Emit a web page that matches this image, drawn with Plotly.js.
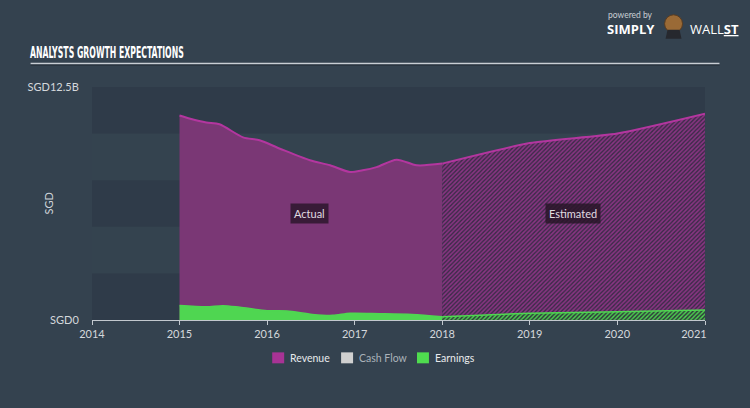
<!DOCTYPE html>
<html>
<head>
<meta charset="utf-8">
<script src="https://cdn.plot.ly/plotly-3.0.1.min.js"></script>
<style>
  html, body { margin: 0; padding: 0; background: #34424f; }
  #chart { width: 750px; height: 408px; }
</style>
</head>
<body>
<div id="chart"></div>
<script>
// ---- data (SGD billions) ----
const revenueActualDates = ['2015-01-01','2015-02-15','2015-04-23','2015-06-17','2015-09-23','2015-12-01','2016-02-24','2016-06-28','2016-09-20','2016-12-12','2017-02-03','2017-04-02','2017-06-25','2017-09-16','2018-01-01'];
const revenueActual = [10.97, 10.8, 10.6, 10.5, 9.8, 9.64, 9.19, 8.57, 8.3, 7.94, 8.03, 8.2, 8.6, 8.3, 8.39];
const revenueEstDates = ['2018-01-01','2019-01-01','2020-01-01','2021-01-01'];
const revenueEst = [8.39, 9.49, 10.0, 11.06];
const earningsActualDates = ['2015-01-01','2015-04-23','2015-07-01','2015-09-10','2016-01-01','2016-03-25','2016-07-08','2016-10-01','2016-12-12','2017-04-15','2017-08-28','2018-01-01'];
const earningsActual = [0.78, 0.71, 0.77, 0.68, 0.50, 0.48, 0.30, 0.25, 0.36, 0.34, 0.30, 0.18];
const earningsEstDates = ['2018-01-01','2019-01-01','2020-01-01','2021-01-01'];
const earningsEst = [0.18, 0.36, 0.44, 0.54];
const xTickVals = ['2014-01-01','2015-01-01','2016-01-01','2017-01-01','2018-01-01','2019-01-01','2020-01-01','2021-01-01'];
const xTickText = ['2014','2015','2016','2017','2018','2019','2020','2021'];
const yTickVals = [0, 12.5];
const yTickText = ['SGD0', 'SGD12.5B'];
const legendNames = ['Revenue', 'Cash Flow', 'Earnings'];

// ---- styles ----
const PAPER = '#34424f';
const BAND = '#2f3b49';
const REV_LINE = '#b3369f';
const REV_FILL = '#7a3775';
const EARN = '#4fd651';

// plot area in pixels
const L = 91.5, R = 705.5, T = 86.5, B = 320.5;
const px = x => (x - L) / (R - L);
const py = y => (B - y) / (B - T);

const traces = [
  {x: revenueActualDates, y: revenueActual, type: 'scatter', mode: 'lines',
   line: {color: REV_LINE, width: 2, shape: 'spline', smoothing: 0.8},
   fill: 'tozeroy', fillcolor: REV_FILL, hoverinfo: 'skip', showlegend: false},
  {x: revenueEstDates, y: revenueEst, type: 'scatter', mode: 'lines',
   line: {color: REV_LINE, width: 2, shape: 'spline', smoothing: 0.6},
   fill: 'tozeroy', fillcolor: '#3e2b4a',
   fillpattern: {shape: '/', bgcolor: '#3e2b4a', fgcolor: '#8c3585', size: 3, solidity: 0.5},
   hoverinfo: 'skip', showlegend: false},
  {x: earningsActualDates, y: earningsActual, type: 'scatter', mode: 'lines',
   line: {color: EARN, width: 1.5, shape: 'spline', smoothing: 0.8},
   fill: 'tozeroy', fillcolor: EARN, hoverinfo: 'skip', showlegend: false},
  {x: earningsEstDates, y: earningsEst, type: 'scatter', mode: 'lines',
   line: {color: EARN, width: 1.5, shape: 'spline', smoothing: 0.6},
   fill: 'tozeroy', fillcolor: '#2f4a3a',
   fillpattern: {shape: '/', bgcolor: '#2f3f3c', fgcolor: '#4fd651', size: 3, solidity: 0.45},
   hoverinfo: 'skip', showlegend: false}
];

const shapes = [
  // background bands
  {type: 'rect', xref: 'paper', yref: 'y', x0: 0, x1: 1, y0: 0, y1: 2.5, fillcolor: BAND, line: {width: 0}, layer: 'below'},
  {type: 'rect', xref: 'paper', yref: 'y', x0: 0, x1: 1, y0: 5, y1: 7.5, fillcolor: BAND, line: {width: 0}, layer: 'below'},
  {type: 'rect', xref: 'paper', yref: 'y', x0: 0, x1: 1, y0: 10, y1: 12.5, fillcolor: BAND, line: {width: 0}, layer: 'below'},
  // title underline
  {type: 'line', xref: 'paper', yref: 'paper', x0: px(30), x1: px(720), y0: py(63), y1: py(63), line: {color: '#c9ced4', width: 1.5}},
  {type: 'line', xref: 'paper', yref: 'paper', x0: px(30), x1: px(720), y0: py(64.6), y1: py(64.6), line: {color: '#27313b', width: 1}},
  // legend boxes
  {type: 'rect', xref: 'paper', yref: 'paper', x0: px(272), x1: px(284), y0: py(353), y1: py(364), fillcolor: '#a83395', line: {width: 0}},
  {type: 'rect', xref: 'paper', yref: 'paper', x0: px(341), x1: px(353), y0: py(353), y1: py(364), fillcolor: '#d0d0d0', line: {width: 0}},
  {type: 'rect', xref: 'paper', yref: 'paper', x0: px(417), x1: px(429), y0: py(353), y1: py(364), fillcolor: '#4fdc4f', line: {width: 0}},
  // simple bull emblem of the logo
  {type: 'circle', xref: 'paper', yref: 'paper', x0: px(665), x1: px(683), y0: py(32), y1: py(14), fillcolor: '#9a6a36', line: {color: '#5a3c20', width: 1}},
  {type: 'path', xref: 'paper', yref: 'paper',
   path: `M ${px(666)} ${py(38)} L ${px(682)} ${py(38)} L ${px(680)} ${py(29)} L ${px(668)} ${py(29)} Z`,
   fillcolor: '#26282e', line: {width: 0}}
];

const FONT = 'Lato, "Open Sans", sans-serif';
const ann = (text, x, y, opts) => Object.assign({text, xref: 'paper', yref: 'paper', x: px(x), y: py(y),
  xanchor: 'center', yanchor: 'middle', showarrow: false}, opts);
const annotations = [
  ann('Actual', 309, 214, {font: {family: FONT, size: 11, color: '#e0dce0'}, bgcolor: 'rgba(45,22,45,0.85)', borderpad: 3}),
  ann('Estimated', 573, 214, {font: {family: FONT, size: 11, color: '#e0dce0'}, bgcolor: 'rgba(40,22,40,0.85)', borderpad: 3}),
  ann('SGD', 48, 204, {textangle: -90, font: {family: FONT, size: 11, color: '#cdd2d8'}}),
  ann(legendNames[0], 288, 358.5, {xanchor: 'left', font: {family: FONT, size: 10.5, color: '#e8eaec'}}),
  ann(legendNames[1], 357, 358.5, {xanchor: 'left', font: {family: FONT, size: 10.5, color: '#aab2ba'}}),
  ann(legendNames[2], 433, 358.5, {xanchor: 'left', font: {family: FONT, size: 10.5, color: '#e8eaec'}}),
  // logo
  ann('powered by', 606, 14, {xanchor: 'left', font: {family: FONT, size: 8.5, color: '#c9ced4'}}),
  ann('<b>SIMPLY</b>', 605, 28.5, {xanchor: 'left', font: {family: '"Open Sans", sans-serif', size: 13, color: '#ffffff'}}),
  ann('WALL<u><b>ST</b></u>', 688, 28.5, {xanchor: 'left', font: {family: '"Open Sans", sans-serif', size: 13, color: '#ffffff'}})
];

const layout = {
  width: 750, height: 408,
  paper_bgcolor: PAPER, plot_bgcolor: '#34434f',
  margin: {l: L, r: 750 - R, t: T, b: 408 - B, pad: 0},
  showlegend: false,
  title: {text: 'ANALYSTS GROWTH EXPECTATIONS', xref: 'container', yref: 'container',
          x: 30 / 750, xanchor: 'left', y: 1 - 53 / 408, yanchor: 'middle',
          font: {family: '"Liberation Sans Narrow", "DejaVu Sans Condensed", sans-serif', size: 15.5, color: '#ffffff', weight: 'bold'}},
  xaxis: {type: 'date', range: ['2014-01-01', '2021-01-01'], tickvals: xTickVals, ticktext: xTickText,
          showgrid: false, zeroline: false, showline: true, linecolor: '#c2c8ce', linewidth: 1,
          ticks: 'outside', ticklen: 4, tickcolor: '#c2c8ce', tickwidth: 1,
          tickfont: {family: FONT, size: 11, color: '#d4d8dc'}, fixedrange: true},
  yaxis: {range: [0, 12.5], tickvals: yTickVals, ticktext: yTickText, showgrid: false, zeroline: false,
          showline: false, ticks: 'outside', ticklen: 10, tickcolor: 'rgba(0,0,0,0)',
          tickfont: {family: FONT, size: 11, color: '#d4d8dc'}, fixedrange: true},
  shapes: shapes,
  annotations: annotations
};

Plotly.newPlot('chart', traces, layout, {displayModeBar: false, staticPlot: true}).then(() => {
  // condense the title to match the narrow display face
  const t = document.querySelector('.gtitle');
  if (t) {
    const bb = t.getBBox();
    const sx = Math.min(1, 154 / bb.width);
    t.setAttribute('transform', `matrix(${sx},0,0,1,${bb.x * (1 - sx)},0)`);
  }
  // keep the last year label inside the axis end, as in the reference
  const labels = document.querySelectorAll('.xtick text');
  if (labels.length) {
    const last = labels[labels.length - 1];
    last.setAttribute('transform', (last.getAttribute('transform') || '') + ' translate(-11,0)');
  }
});
</script>
</body>
</html>
